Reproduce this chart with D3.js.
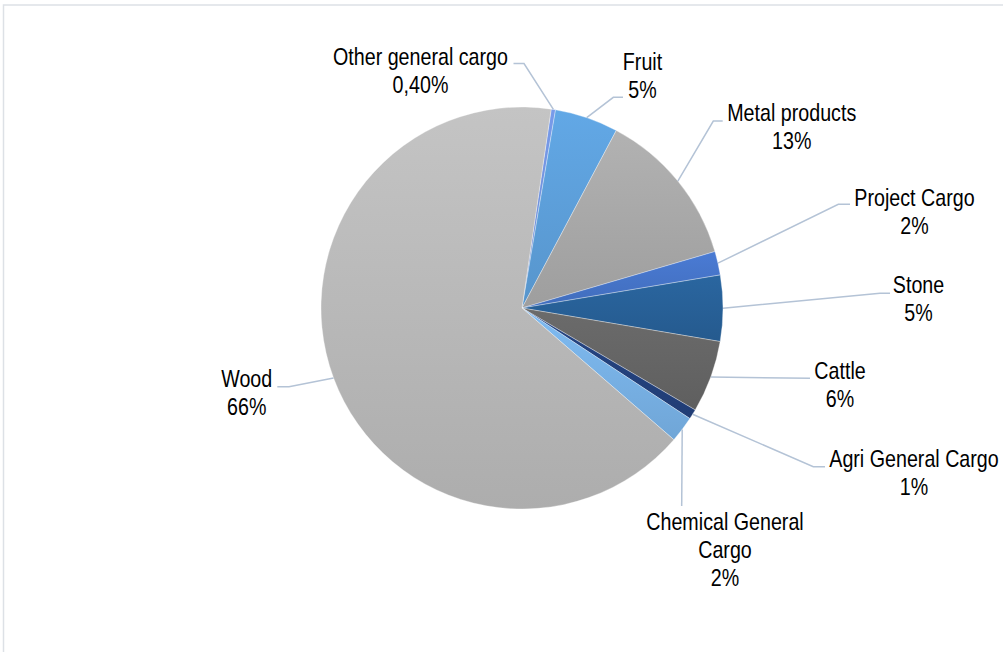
<!DOCTYPE html>
<html>
<head>
<meta charset="utf-8">
<script src="https://cdn.jsdelivr.net/npm/d3@7"></script>
<style>
  html, body { margin: 0; padding: 0; background: #ffffff; }
  svg { display: block; }
  text { font-family: "Liberation Sans", Arial, sans-serif; font-size: 24px; fill: #000; }
</style>
</head>
<body>
<svg id="chart" width="1003" height="652"></svg>
<script>
// ---- data ----
const categories = ["Other general cargo", "Fruit", "Metal products", "Project Cargo", "Stone", "Cattle", "Agri General Cargo", "Chemical General Cargo", "Wood"];
const values = [0.35, 5.1, 12.7, 1.9, 5.3, 5.8, 0.8, 2.1, 65.95];
const valueLabels = ["0,40%", "5%", "13%", "2%", "5%", "6%", "1%", "2%", "66%"];

// ---- styles ----
const colors = ["#6f8fd8", "#5b9bd5", "#a5a5a5", "#4472c4", "#275e94", "#636363", "#22407a", "#75ade0", "#b5b5b5"];
const startDeg = 8.35;
const narrow = 0.82; // emulate a narrow typeface

// ---- layout of labels (positions only) ----
const labelLayout = [
  { x: 420.5, y: 65.5, lines: 1, elbow: [524, 63.5], end: [513.5, 63.5] },
  { x: 642.5, y: 70.5, lines: 1, elbow: [613.3, 97.3], end: [623, 97.3] },
  { x: 791.7, y: 121.5, lines: 1, elbow: [713.3, 121], end: [722.7, 121] },
  { x: 914.5, y: 206.5, lines: 1, elbow: [838.3, 204.3], end: [850, 204.3] },
  { x: 918.5, y: 293.5, lines: 1, elbow: [880, 293.3], end: [890, 293.3] },
  { x: 840, y: 379.5, lines: 1, elbow: [810, 378.3], end: [810, 378.3] },
  { x: 914, y: 467.5, lines: 1, elbow: [813.3, 466.7], end: [825, 466.7] },
  { x: 725, y: 530.5, lines: 2, elbow: [681.7, 506], end: [681.7, 506] },
  { x: 246.7, y: 387.5, lines: 1, elbow: [289, 386.7], end: [277.3, 386.7] }
];
const lineGap = 28;

const svg = d3.select("#chart");
const cx = 522, cy = 308, r = 201;

// frame
svg.append("rect")
  .attr("x", 3.5).attr("y", 5).attr("width", 1020).attr("height", 700)
  .attr("fill", "none").attr("stroke", "#dde1e6").attr("stroke-width", 1.5);

// gradients
const defs = svg.append("defs");
colors.forEach((c, i) => {
  const base = d3.color(c);
  const g = defs.append("linearGradient").attr("id", "g" + i)
    .attr("x1", 0).attr("y1", 0).attr("x2", 0).attr("y2", 1);
  g.append("stop").attr("offset", "0%").attr("stop-color", base.brighter(0.22).formatHex());
  g.append("stop").attr("offset", "100%").attr("stop-color", base.darker(0.12).formatHex());
});

const a0 = startDeg * Math.PI / 180;
const pie = d3.pie().sort(null).value(d => d).startAngle(a0).endAngle(a0 + 2 * Math.PI);
const arcs = pie(values);
const arc = d3.arc().innerRadius(0).outerRadius(r);

const g = svg.append("g").attr("transform", `translate(${cx},${cy})`);
g.selectAll("path.slice").data(arcs).enter().append("path")
  .attr("class", "slice")
  .attr("d", arc)
  .attr("fill", (d, i) => `url(#g${i})`)
  .attr("stroke", "#ffffff").attr("stroke-opacity", 0.55).attr("stroke-width", 0.6);

// leader lines
const line = d3.line();
arcs.forEach((d, i) => {
  const L = labelLayout[i];
  const m = (d.startAngle + d.endAngle) / 2;
  const p0 = [cx + r * Math.sin(m), cy - r * Math.cos(m)];
  svg.append("path")
    .attr("d", line([p0, L.elbow, L.end]))
    .attr("fill", "none").attr("stroke", "#b4c3d6").attr("stroke-width", 1.5);
});

// labels
arcs.forEach((d, i) => {
  const L = labelLayout[i];
  let nameLines = [categories[i]];
  if (L.lines === 2) {
    const words = categories[i].split(" ");
    nameLines = [words.slice(0, words.length - 1).join(" "), words[words.length - 1]];
  }
  const allLines = nameLines.concat([valueLabels[i]]);
  const t = svg.append("text").attr("text-anchor", "middle")
    .attr("transform", `translate(${L.x},0) scale(${narrow},1)`);
  allLines.forEach((s, k) => {
    t.append("tspan").attr("x", 0).attr("y", L.y + k * lineGap).text(s);
  });
});
</script>
</body>
</html>
